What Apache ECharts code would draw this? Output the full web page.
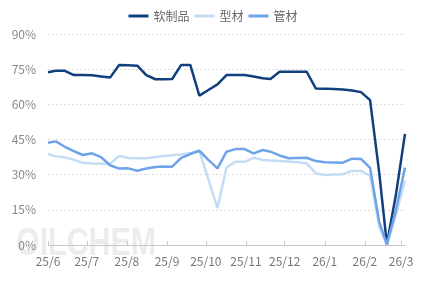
<!DOCTYPE html>
<html>
<head>
<meta charset="utf-8">
<script src="https://cdn.jsdelivr.net/npm/echarts@6/dist/echarts.min.js"></script>
<style>html,body{margin:0;padding:0;background:#fff}#c{width:426px;height:283px}</style>
</head>
<body>
<div id="c"></div>
<script>
var dates = ['2025-06-01','2025-06-07','2025-06-14','2025-06-21','2025-06-28','2025-07-05','2025-07-12','2025-07-19','2025-07-26','2025-08-02','2025-08-09','2025-08-16','2025-08-23','2025-08-29','2025-09-05','2025-09-12','2025-09-19','2025-09-26','2025-10-03','2025-10-10','2025-10-17','2025-10-24','2025-10-31','2025-11-07','2025-11-14','2025-11-20','2025-11-27','2025-12-04','2025-12-11','2025-12-18','2025-12-25','2026-01-01','2026-01-08','2026-01-15','2026-01-22','2026-01-29','2026-02-05','2026-02-12','2026-02-18','2026-02-25','2026-03-04'];
var ruanzhipin = [73.7,74.3,74.3,72.5,72.5,72.4,71.9,71.4,76.8,76.7,76.5,72.5,70.7,70.7,70.8,76.8,76.8,63.7,66.1,68.5,72.5,72.5,72.5,71.9,71.1,70.8,73.9,73.9,73.9,73.9,66.8,66.7,66.5,66.3,65.9,65.2,61.8,31.2,0.3,21.5,47.4];
var xingcai = [38.8,37.8,37.4,36.3,35.1,34.8,34.7,34.6,38.0,37.1,37.0,37.0,37.5,38.0,38.3,38.6,39.2,40.1,28.0,15.7,33.1,35.5,35.5,37.2,36.3,36.0,35.8,35.6,35.3,34.8,30.6,29.9,30.1,30.2,31.6,31.6,29.5,8.0,0.2,12.8,27.5];
var guancai = [43.6,44.2,41.9,40.0,38.4,39.1,37.5,34.0,32.6,32.7,31.7,32.6,33.3,33.5,33.4,37.2,38.8,40.2,36.3,32.7,39.8,40.9,40.9,39.1,40.5,39.8,38.2,37.0,37.1,37.2,35.8,35.3,35.2,35.1,36.8,36.7,32.9,10.0,0.2,14.9,33.0];
var tickDates = ['2025-06-01','2025-07-01','2025-08-01','2025-09-01','2025-10-01','2025-11-01','2025-12-01','2026-01-01','2026-02-01','2026-03-01'];
var tickLabels = ['25/6','25/7','25/8','25/9','25/10','25/11','25/12','26/1','26/2','26/3'];
var yTicks = [0,15,30,45,60,75,90];

var DAY = 86400000;
function dayNum(s){var p=s.split('-');return Math.round(Date.UTC(+p[0],+p[1]-1,+p[2])/DAY);}
var tickDays = tickDates.map(dayNum);
function pairs(vals){return dates.map(function(d,i){return [dayNum(d),vals[i]];});}

var font = '"Noto Sans CJK SC", "Noto Sans", sans-serif';
var chart = echarts.init(document.getElementById('c'));
chart.setOption({
  animation:false,
  backgroundColor:'#fff',
  textStyle:{fontFamily:font},
  legend:{
    top:5, left:'center', itemWidth:20, itemHeight:3, itemGap:5, icon:'rect',
    textStyle:{color:'#666',fontSize:12,fontFamily:font},
    data:['软制品','型材','管材']
  },
  grid:{left:48,right:21,top:34,bottom:38,containLabel:false},
  graphic:[{
    type:'text', left:16, top:226, z:-10, silent:true, scaleX:0.8,
    style:{text:'OILCHEM', font:'bold 38px "Liberation Sans", sans-serif',
      fill:'rgba(185,185,185,0.28)'}
  }],
  xAxis:{
    type:'value', min:dayNum(dates[0]), max:dayNum(dates[dates.length-1]),
    axisLine:{lineStyle:{color:'#c8c8c8',width:1}},
    axisTick:{show:true,inside:true,length:4,customValues:tickDays,lineStyle:{color:'#c8c8c8'}},
    axisLabel:{customValues:tickDays,color:'#777',fontSize:12,margin:10,fontFamily:font,
      formatter:function(v){var i=tickDays.indexOf(Math.round(v));return i>=0?tickLabels[i]:'';}},
    splitLine:{show:false}
  },
  yAxis:{
    type:'value', min:yTicks[0], max:yTicks[yTicks.length-1], interval:15,
    axisLine:{show:false}, axisTick:{show:false},
    axisLabel:{formatter:'{value}%',color:'#888',fontSize:12,margin:12,fontFamily:font},
    splitLine:{lineStyle:{color:'#dedede',type:[2,2],width:1}}
  },
  series:[
    {name:'软制品',type:'line',symbol:'none',data:pairs(ruanzhipin),lineStyle:{width:2.5,color:'#123f7e'},itemStyle:{color:'#123f7e'}},
    {name:'型材',type:'line',symbol:'none',data:pairs(xingcai),lineStyle:{width:2.5,color:'#c5dcf6'},itemStyle:{color:'#c5dcf6'}},
    {name:'管材',type:'line',symbol:'none',data:pairs(guancai),lineStyle:{width:2.5,color:'#6ea3e8'},itemStyle:{color:'#6ea3e8'}}
  ]
});
</script>
</body>
</html>
